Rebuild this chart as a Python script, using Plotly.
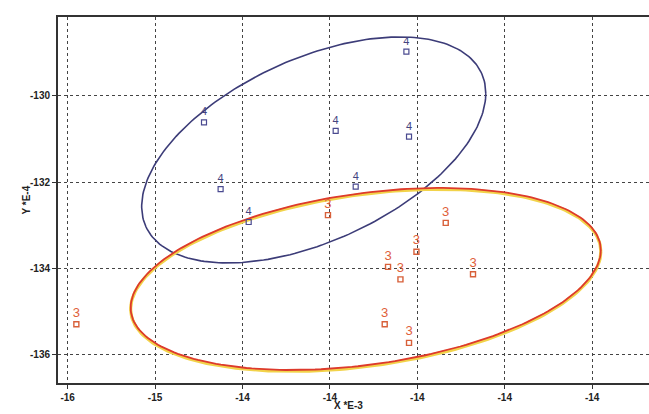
import numpy as np
import plotly.graph_objects as go

# Tick labels (as printed on the chart)
x_tick_vals = [0, 1, 2, 3, 4, 5, 6]
x_tick_text = ["-16", "-15", "-14", "-14", "-14", "-14", "-14"]
y_tick_vals = [-130, -132, -134, -136]
y_tick_text = ["-130", "-132", "-134", "-136"]

# Group 4 (blue)
g4_x = [3.875, 1.56, 3.066, 3.905, 1.75, 3.295, 2.071]
g4_y = [-128.97, -130.61, -130.81, -130.94, -132.16, -132.10, -132.92]

# Group 3 (orange)
g3_x = [0.10, 2.978, 4.325, 3.99, 3.665, 3.807, 4.637, 3.627, 3.905]
g3_y = [-135.29, -132.76, -132.94, -133.61, -133.96, -134.25, -134.13, -135.29, -135.72]

# Ellipse parameters: center x, center y, x half-extent, y half-extent, phase (deg)
ell4 = dict(cx=2.815, cy=-131.25, ax=1.968, ay=2.619, phase=60.0)
ell3 = dict(cx=3.41, cy=-134.24, ax=2.689, ay=2.109, phase=71.6)


def ellipse(p, n=240):
    t = np.linspace(0, 2 * np.pi, n)
    d = np.deg2rad(p["phase"])
    return p["cx"] + p["ax"] * np.cos(t), p["cy"] + p["ay"] * np.cos(t - d)


fig = go.Figure()

e4x, e4y = ellipse(ell4)
e3x, e3y = ellipse(ell3)

fig.add_trace(go.Scatter(x=e4x, y=e4y, mode="lines",
                         line=dict(color="#3c3c78", width=1.6), hoverinfo="skip"))
fig.add_trace(go.Scatter(x=e3x, y=e3y - 0.03, mode="lines",
                         line=dict(color="#f2d34a", width=3.2), hoverinfo="skip"))
fig.add_trace(go.Scatter(x=e3x, y=e3y, mode="lines",
                         line=dict(color="#dd3a2c", width=1.8), hoverinfo="skip"))

fig.add_trace(go.Scatter(
    x=g4_x, y=g4_y, mode="markers+text", text=["4"] * len(g4_x),
    textposition="top center",
    textfont=dict(family="Liberation Sans, Arial", size=11, color="#444480"),
    marker=dict(symbol="square-open", size=5, color="#4a4a90", line=dict(width=1.2)),
))
fig.add_trace(go.Scatter(
    x=g3_x, y=g3_y, mode="markers+text", text=["3"] * len(g3_x),
    textposition="top center",
    textfont=dict(family="Liberation Sans, Arial", size=13, color="#e0603a"),
    marker=dict(symbol="square-open", size=5, color="#d8603a", line=dict(width=1.4)),
))

axis_common = dict(
    showgrid=True, gridcolor="#444444", griddash="dot", gridwidth=1,
    zeroline=False, ticks="outside", ticklen=4, tickcolor="#333333",
    tickfont=dict(family="Liberation Sans, Arial", size=10, color="#222222"),
    linecolor="#333333", linewidth=2, showline=True,
)

fig.update_xaxes(range=[-0.11, 6.65], tickvals=x_tick_vals,
                 ticktext=["<b>%s</b>" % t for t in x_tick_text],
                 mirror=True, **axis_common)
fig.update_yaxes(range=[-136.65, -128.17], tickvals=y_tick_vals,
                 ticktext=["<b>%s</b>" % t for t in y_tick_text],
                 mirror=False, **axis_common)

fig.add_annotation(text="<b>Y *E-4</b>", xref="x domain", yref="y domain",
                   x=-(58 - 18) / 591, y=(383 - 200) / 366,
                   showarrow=False, textangle=-90,
                   font=dict(family="Liberation Sans, Arial", size=10, color="#222222"))
fig.add_annotation(text="<b>X *E-3</b>", xref="x domain", yref="y domain",
                   x=(348 - 58) / 591, y=-(413 - 383) / 366, showarrow=False,
                   font=dict(family="Liberation Sans, Arial", size=10, color="#222222"))

fig.update_layout(
    width=649, height=414,
    margin=dict(l=58, r=0, t=17, b=31),
    paper_bgcolor="white", plot_bgcolor="white",
    showlegend=False,
)

fig.write_html("out.html")
